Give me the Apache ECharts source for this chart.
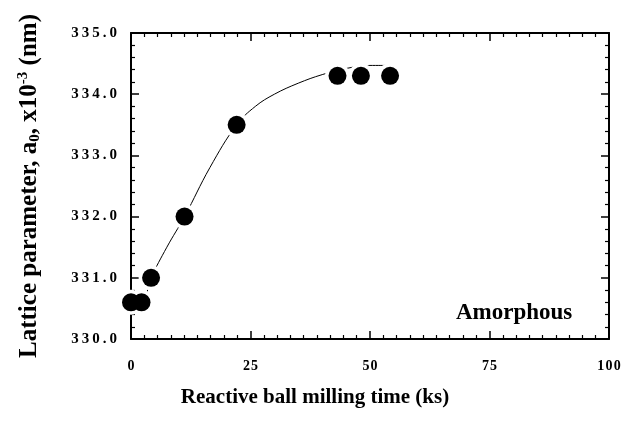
<!DOCTYPE html>
<html>
<head>
<meta charset="utf-8">
<script src="https://cdn.jsdelivr.net/npm/echarts@6/dist/echarts.min.js"></script>
<style>
  html, body { margin: 0; padding: 0; background: #fff; }
  #chart { width: 639px; height: 421px; }
</style>
</head>
<body>
<div id="chart"></div>
<script>
// measured points
var millTime = [0, 2.2, 4.2, 11.2, 22.1, 43.2, 48.1, 54.2];
var latticeParam = [330.6, 330.6, 331.0, 332.0, 333.5, 334.3, 334.3, 334.3];
// fitted curve
var fitTime = [0, 2.2, 4.2, 7.5, 11.2, 16.5, 22.1, 26, 30, 35, 40, 45, 50, 53.5];
var fitParam = [330.6, 330.6, 331.0, 331.5, 332.0, 332.8, 333.5, 333.8, 334.0, 334.18, 334.32, 334.42, 334.47, 334.47];
var xTicks = [0, 25, 50, 75, 100];
var yTicks = [330, 331, 332, 333, 334, 335];

var serif = '"Liberation Serif", "DejaVu Serif", serif';
var chart = echarts.init(document.getElementById('chart'));

function spaced(s, sp) { return String(s).split('').join(sp); }

var axisLine = { show: true, onZero: false, lineStyle: { color: '#000', width: 2 } };
var axisTick = { show: true, inside: true, length: 8, lineStyle: { color: '#000', width: 1.5 } };
var minorX = { show: true, length: 4, splitNumber: 9, lineStyle: { color: '#000', width: 1.2 } };
var minorY = { show: true, length: 4, splitNumber: 5, lineStyle: { color: '#000', width: 1.2 } };

var option = {
  animation: false,
  backgroundColor: '#fff',
  grid: { left: 131, right: 30, top: 33, bottom: 82 },
  xAxis: [
    {
      type: 'value', min: xTicks[0], max: xTicks[xTicks.length - 1], interval: 25,
      position: 'bottom', axisLine: axisLine, axisTick: axisTick, minorTick: minorX,
      splitLine: { show: false },
      axisLabel: {
        margin: 20, color: '#000', fontFamily: serif, fontWeight: 'bold', fontSize: 14,
        formatter: function (v) { return xTicks.indexOf(v) >= 0 ? spaced(v, '\u200A') : ''; }
      },
      name: 'Reactive ball milling time (ks)',
      nameLocation: 'middle', nameGap: 48,
      nameTextStyle: { color: '#000', fontFamily: serif, fontWeight: 'bold', fontSize: 21, padding: [0, 110, 0, 0] }
    },
    {
      type: 'value', min: 0, max: 100, interval: 25, position: 'top',
      axisLine: axisLine, axisTick: axisTick, minorTick: minorX,
      splitLine: { show: false }, axisLabel: { show: false }
    }
  ],
  yAxis: [
    {
      type: 'value', min: yTicks[0], max: yTicks[yTicks.length - 1], interval: 1,
      position: 'left', axisLine: axisLine, axisTick: axisTick, minorTick: minorY,
      splitLine: { show: false },
      axisLabel: {
        margin: 14, color: '#000', fontFamily: serif, fontWeight: 'bold', fontSize: 15,
        formatter: function (v) { return spaced(v.toFixed(1), '\u2009'); }
      },
      name: '{n|Lattice parameter, a}{sub|0}{n|, x10}{sup|-3}{n| (nm)}',
      nameLocation: 'middle', nameGap: 86, nameRotate: 90,
      nameTextStyle: {
        color: '#000', fontFamily: serif, fontWeight: 'bold', fontSize: 25,
        rich: {
          n: { fontFamily: serif, fontWeight: 'bold', fontSize: 25, lineHeight: 31, verticalAlign: 'middle', color: '#000' },
          sub: { fontFamily: serif, fontWeight: 'bold', fontSize: 15, lineHeight: 31, verticalAlign: 'bottom', color: '#000', padding: [0, 0, 2, 0] },
          sup: { fontFamily: serif, fontWeight: 'bold', fontSize: 15, lineHeight: 31, verticalAlign: 'top', color: '#000', padding: [2, 0, 0, 0] }
        }
      }
    },
    {
      type: 'value', min: 330, max: 335, interval: 1, position: 'right',
      axisLine: axisLine, axisTick: axisTick, minorTick: minorY,
      splitLine: { show: false }, axisLabel: { show: false }
    }
  ],
  graphic: [{
    type: 'text', left: 456, top: 302,
    style: { text: 'Amorphous', fill: '#000', font: 'bold 23px ' + serif }
  }],
  series: [
    {
      type: 'line', smooth: 0.4, showSymbol: false, symbol: 'none', z: 1,
      data: fitTime.map(function (t, i) { return [t, fitParam[i]]; }),
      lineStyle: { color: '#000', width: 1 }
    },
    {
      // white halo to break the line around the dots
      type: 'scatter', symbolSize: 25, z: 2,
      data: millTime.map(function (t, i) { return [t, latticeParam[i]]; }),
      itemStyle: { color: '#fff', opacity: 1 }
    },
    {
      type: 'scatter', symbolSize: 18, z: 3,
      data: millTime.map(function (t, i) { return [t, latticeParam[i]]; }),
      itemStyle: { color: '#000', opacity: 1 }
    }
  ]
};
chart.setOption(option);
</script>
</body>
</html>
